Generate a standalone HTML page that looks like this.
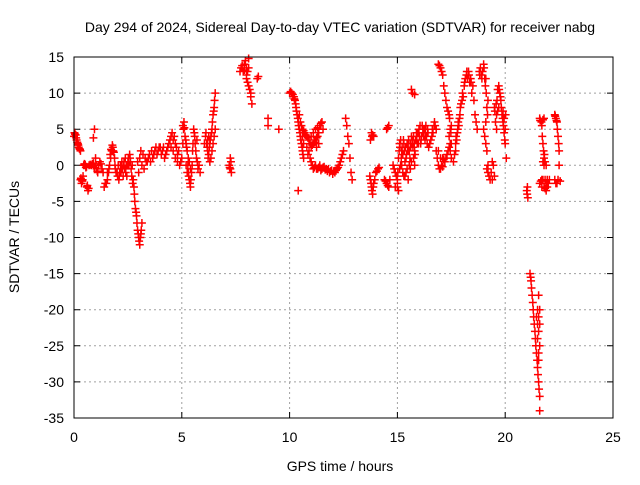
<!DOCTYPE html>
<html><head><meta charset="utf-8"><style>
body{margin:0;background:#fff}
svg{font-family:"Liberation Sans",sans-serif;font-size:13px}
</style></head><body>
<svg id="chart" width="640" height="480" viewBox="0 0 640 480">
<text x="340" y="32" text-anchor="middle" font-size="14">Day 294 of 2024, Sidereal Day-to-day VTEC variation (SDTVAR) for receiver nabg</text>
<g id="grid"></g>
<g id="ticks"></g>
<g id="points"></g>
<rect x="74" y="57" width="539" height="361" fill="none" stroke="#000" stroke-width="1"/>
<text transform="translate(19,237) rotate(-90)" text-anchor="middle" font-size="14">SDTVAR / TECUs</text>
<text x="340" y="471" text-anchor="middle" font-size="14">GPS time / hours</text>
</svg>
<script>
const xTicks=[0,5,10,15,20,25];
const yTicks=[15,10,5,0,-5,-10,-15,-20,-25,-30,-35];
const hoursA=[0,0.05,0.1,0.15,0.2,0.25,0.3,0.3,0.35,0.4,0.45,0.5,0.55,0.6,0.65,0.7,0.8,0.9,
0.9,0.95,1.0,1.05,1.1,1.2,1.3,1.4,1.5,
1.6,1.7,1.75,1.8,1.85,1.9,2.0,2.1,2.2,2.3,2.4,2.5,2.6,2.7,
2.75,2.8,2.85,2.9,2.95,3.0,3.05,3.1,3.15,
3.1,3.2,3.3,3.4,3.5,3.6,3.7,3.8,3.9,4.0,4.1,4.2,4.3,4.4,4.5,4.6,4.7,4.8,4.9,5.0,5.05,
5.05,5.1,5.15,5.2,5.25,5.3,5.35,5.4,5.45,5.5,5.55,5.6,5.7,5.8,5.85,
6.1,6.15,6.2,6.25,6.3,6.35,6.4,6.45,6.5,6.55,6.3,6.4,
7.2,7.25,7.3,7.25,
7.7,7.8,7.9,8.0,8.1,8.0,8.1,8.2,8.25,8.5,8.55,9.0,9.0,9.5,
10,10.1,10.2,10.25,10.3,10.35,10.4,10.45,10.5,10.55,10.6,10.65,10.4,
10.6,10.7,10.8,10.9,11.0,11.1,11.2,11.3,11.4,11.5,11.55,
11.0,11.1,11.2,11.3,11.5,11.6,11.7,11.9,12.1,12.2,12.3,12.4,12.5,
12.6,12.65,12.7,12.75,12.8,12.85,12.9,
13.75,13.8,13.9,13.75,13.8,13.85,13.9,14.0,14.1,
14.4,14.5,14.6,14.5,14.6,
14.8,14.9,15.0,15.05,15.1,15.2,15.3,15.4,15.5,15.6,15.7,15.8,15.9,16.0,16.1,16.2,16.3,16.4,16.5,16.6,16.7,16.8,
15.2,15.4,15.6,15.8,15.0,15.3,15.5,
15.65,15.7,15.8,
16.9,17.0,17.1,17.2,17.3,17.4,17.5,17.45,17.5,
16.8,16.9,17.0,17.1,17.2,17.3,17.4,17.5,
17.6,17.7,17.8,17.9,18.0,18.1,18.2,18.3,18.4,18.5,18.6,18.7,
18.8,18.9,19.0,19.1,19.2,19.0,19.1,19.2,19.3,19.4,19.5,19.1,
19.5,19.6,19.7,19.75,19.8,19.85,19.9,19.95,20.0,20.05,19.6,
21.0,21.05,
21.15,21.2,21.25,21.3,21.35,21.4,21.45,21.5,21.55,21.5,21.55,21.6,21.6,21.6,21.55,
21.6,21.7,21.8,21.75,21.8,21.7,21.6,21.8,21.9,22.0,21.8,
22.3,22.35,22.4,22.45,22.5,22.5,22.4,22.3];
const valsA=[4,4.3,3.8,3.2,2.8,2.3,2,-2,-2.5,-2,0,0,-0.3,-3,-3.5,0,0,0.3,
3.8,5,1,-0.5,-1,0.5,-0.5,-3,-2.5,
-1,1,2,2.5,1.8,0,-1,-1.5,-0.5,0,-1,0.5,1,0,
-2,-4,-6,-7,-9,-10,-11,-9.5,-8,
2,1.5,1,0.5,1.5,2,1.5,2.5,2,2.5,2,1,2,3,4,3.5,3,1.5,0,1,3,
5.5,6,4,3,2,-1,-2,-3,-1,2,5,4,3.5,0,-1,
4,3,2,1.5,3,4,5,7,8,10,0.5,2,
0,-0.5,-1,1,
13,13.8,14,13.5,14.8,12,11,9.5,8.5,12,12.3,5.5,6.5,5,
10,10,9.5,9,8,7,6,5,4,3,2,1,-3.5,
5,4.5,4,3.5,2.5,3,3.5,4,5.5,6,5,
0.5,-0.5,0,-0.5,-0.5,-0.2,-0.5,-0.8,-1,-0.5,0,1,2,
6.5,5.5,4,3,1,-1,-2,
3.5,4.5,4,-2,-3,-4,-2.5,-1,-0.5,
-2,-2.5,-3,5,5.5,
0,-1,-2,1,3,2,3,1,2.5,3,3.5,2,4,5,3.5,5,4.5,5,3,4,5.5,5,
0,-1,-0.5,0,-3,-1.5,-2,
10.5,10,9.8,
14,13.5,12.5,10,8,7,5.5,3,1,
2,0,-0.5,1,0.5,1.5,2.5,3,
0.5,3,5,7,9,11,12.5,13,12,11,7,5,
13,12.5,14,12,9,5,3,-1,-2,0.5,-1.5,6,
8,7,11,10,9,7,6,4.5,3,1,5,
-3.5,-4.5,
-15,-16,-18,-20,-22,-24,-26,-28,-30,-22,-21,-25,-32,-34,-18,
6.5,5.5,6.5,3,0,-2,-2.5,-3,-3.5,-2.5,1,
7,6.5,6,4,2,0,-2.5,-2];
const hoursB=[0.02,0.08,0.12,0.18,0.22,0.28,
0.32,0.38,0.42,0.48,0.52,0.58,0.62,0.68,0.75,0.85,0.95,
1.02,1.08,1.15,1.25,1.35,1.45,1.55,1.55,
1.62,1.65,1.68,1.72,1.78,1.82,1.88,1.92,1.95,2.02,2.05,2.08,2.12,2.15,2.18,2.22,2.25,2.28,2.32,2.35,2.38,2.42,2.45,2.48,2.52,2.55,2.58,2.62,2.65,2.68,2.72,
2.78,2.82,2.88,2.92,2.98,3.02,3.08,3.12,
3.15,3.25,3.35,3.45,3.55,3.65,3.75,3.85,3.95,4.05,4.15,4.25,4.35,4.45,4.55,4.65,4.75,4.85,4.95,3.0,3.05,2.95,4.5,4.6,4.7,4.8,
5.08,5.12,5.18,5.22,5.28,5.32,5.38,5.42,5.48,5.52,5.58,5.62,5.65,5.68,5.72,5.75,5.2,5.25,5.3,5.35,5.4,
6.05,6.12,6.18,6.22,6.28,6.32,6.38,6.42,6.48,6.52,6.35,6.45,6.5,6.55,6.2,6.25,
7.22,7.28,
7.75,7.85,7.95,8.05,8.0,8.05,8.15,8.2,7.9,8.1,
10.05,10.15,10.22,10.28,10.32,10.38,10.42,10.48,10.52,10.58,10.62,10.5,10.55,10.45,10.6,10.65,
10.65,10.75,10.85,10.95,11.05,11.15,11.25,11.35,11.45,10.8,10.9,10.85,10.95,11.0,11.1,11.2,11.3,11.25,11.35,
11.05,11.15,11.25,11.35,11.45,11.55,11.65,11.75,11.8,11.85,11.95,12.0,12.05,12.15,12.25,12.35,12.45,11.4,
13.72,13.78,13.82,13.88,13.95,14.05,14.15,13.82,13.85,14.45,14.55,14.65,14.55,
14.85,14.95,15.02,15.08,15.12,15.15,15.18,15.22,15.25,15.28,15.32,15.35,15.38,15.42,15.45,15.48,15.52,15.55,15.58,15.62,15.65,15.68,15.72,15.75,15.78,15.82,15.85,15.88,15.92,15.95,15.98,16.02,16.05,16.08,16.12,16.15,16.18,16.22,16.25,16.28,16.32,16.35,16.38,16.42,16.45,16.55,16.62,16.65,16.72,16.75,15.1,15.15,15.25,15.35,15.45,15.55,15.65,15.75,15.0,14.9,15.05,
16.85,16.95,17.05,17.15,17.25,17.35,17.45,16.9,17.0,17.1,
16.95,17.05,17.15,17.25,17.35,17.42,17.48,17.4,17.45,
17.65,17.72,17.78,17.82,17.88,17.92,17.95,18.02,18.05,18.12,18.15,18.22,18.25,18.32,18.35,18.42,18.45,18.55,18.65,17.7,17.75,17.85,
18.82,18.85,18.92,18.95,19.02,19.05,19.08,19.12,19.15,19.18,19.05,19.15,19.25,19.35,19.45,19.4,19.15,19.2,
19.52,19.58,19.62,19.65,19.72,19.78,19.82,19.88,19.92,19.98,19.65,19.7,19.55,19.9,19.95,20.0,20.02,
21.02,21.03,
21.18,21.22,21.28,21.32,21.38,21.42,21.48,21.52,21.45,21.5,21.55,21.6,21.55,21.5,21.6,21.57,21.55,
21.62,21.68,21.75,21.72,21.78,21.75,21.65,21.7,21.75,21.85,21.95,21.85,21.9,21.95,22.05,21.82,21.85,21.9,
22.32,22.38,22.42,22.48,22.45,22.35,22.55];
const valsB=[4.5,4.2,3.5,3,2.5,2.2,
-1.8,-2.2,-1.5,0.2,0.1,-0.2,-2.8,-3.2,0.1,0.2,-0.3,
0,-0.8,0,0.2,-1,-2.5,-2,-1,
-0.5,0,1.5,2.2,2.8,2,1,-0.5,-1,-1.5,0,-2,-1,0,-1,0.5,-0.5,-1.5,0.5,-0.5,1,0,-1.5,0,1,0,1.5,0.5,-0.5,-1.5,-2.5,
-3,-5,-6.5,-8,-9.5,-10.5,-10,-9,
0,-0.5,0.5,1,0.5,1,2,1.5,2.5,1.5,2.5,1.5,2.5,3.5,4.5,4,2.5,2,0.5,-1,1,0.5,2.5,2,1,0.5,
5,5.2,3.5,2.5,0,-1.5,-2.5,-2,0,3,4.5,3,2,1,0.5,-0.5,0,-1,1,0.5,-0.5,
3,4.5,2.5,1,2.5,3.5,4.5,6,7.5,9,1,3,4,5,3.5,4,
-0.3,0.5,
13.5,13,14.5,13,12.5,11.5,10.5,10,13.2,13.5,
10.2,9.8,9.2,8.5,7.5,6.5,5.5,4.5,3.5,2.5,1.5,6,5.5,7,4,3,
4.8,4.2,3.8,3,2.8,3.2,3.8,4.5,5.8,2.5,2,1.5,1,4,4.5,5,5.2,2.5,3,
0,-0.3,-0.5,-0.3,-0.7,-0.3,-0.6,-0.8,-0.5,-1,-0.7,-1.2,-0.8,-0.7,-0.3,0.5,1.5,0,
-1.5,-2.5,-3.5,-3,-2,-0.8,-0.3,4,4.2,-2.2,-2.8,-2,5.2,
-0.5,-1.5,-1,2,2.5,3.5,1,2.5,1.5,3.5,2,0.5,2.5,1.5,3,2,3.5,2,1,2.5,4,3,2.5,4,3,1.5,3.5,4.5,3,4.5,3,4,5.5,3,4,5.5,4.5,4,5,3.5,5.5,4,3,4.5,2.5,3.5,5,4.5,6,5.5,-0.5,0,-1,-1.5,-0.5,0,0.5,1,-2.5,-3,-3.5,
1,-0.5,0,0.8,1,2,2,2,1,-0.2,
13.8,13,11,9,7.5,6.5,4.5,4,5,
1.5,4,4.5,6,6.5,8,8.5,10,9.5,11.5,12,13,12,12.5,11.5,11.5,10,9,6,2,3.5,5.5,
12.5,13.5,12,13,13.5,12,11,10,8,7,4,2,-1.5,-1,0,-2,-0.5,0,
7.5,8.5,9,10.5,10.5,9.5,8,6.5,5.5,3.5,7.5,8,6,7.5,6.5,5,7,
-4,-3,
-15.5,-17,-19,-21,-23,-25,-27,-29,-21,-20,-23,-22,-26,-24,-20,-31,-27,
6.2,6,6.3,4,2,0.5,-2.2,-3,-2,-3.2,-3,-2,-2.5,-2,-2,1.5,0.5,0,
6.8,6.2,5,3,-2,-2.5,-2.2];
const hours=hoursA.concat(hoursB);
const vals=valsA.concat(valsB);
const NS='http://www.w3.org/2000/svg';
const X0=74,X1=613,Y0=418,Y1=57;
function xs(h){return X0+(h-0)/(25-0)*(X1-X0);}
function ys(v){return Y0-(v+35)/(15+35)*(Y0-Y1);}
const grid=document.getElementById('grid'),ticks=document.getElementById('ticks'),pts=document.getElementById('points');
xTicks.forEach(t=>{
  const x=xs(t);
  if(t>0&&t<25){const l=document.createElementNS(NS,'line');
  
  
  l.setAttribute('x1',x);l.setAttribute('x2',x);l.setAttribute('y1',Y1);l.setAttribute('y2',Y0);
  l.setAttribute('stroke','#a0a0a0');l.setAttribute('stroke-dasharray','2,3');grid.appendChild(l);}
  const tk=document.createElementNS(NS,'path');
  
  
  tk.setAttribute('d',`M${x},${Y0}v-6M${x},${Y1}v6`);tk.setAttribute('stroke','#000');ticks.appendChild(tk);
  const tx=document.createElementNS(NS,'text');
  
  
  tx.setAttribute('x',x);tx.setAttribute('y',Y0+24);tx.setAttribute('text-anchor','middle');tx.setAttribute('font-size','14');
  tx.textContent=t;ticks.appendChild(tx);
});
yTicks.forEach(t=>{
  const y=ys(t);
  if(t<15&&t>-35){const l=document.createElementNS(NS,'line');
  
  
  l.setAttribute('x1',X0);l.setAttribute('x2',X1);l.setAttribute('y1',y);l.setAttribute('y2',y);
  l.setAttribute('stroke','#a0a0a0');l.setAttribute('stroke-dasharray','2,3');grid.appendChild(l);}
  const tk=document.createElementNS(NS,'path');
  
  
  tk.setAttribute('d',`M${X0},${y}h6M${X1},${y}h-6`);tk.setAttribute('stroke','#000');ticks.appendChild(tk);
  const tx=document.createElementNS(NS,'text');
  
  
  tx.setAttribute('x',X0-10);tx.setAttribute('y',y+5);tx.setAttribute('text-anchor','end');tx.setAttribute('font-size','14');
  tx.textContent=t;ticks.appendChild(tx);
});
let d='';
for(let i=0;i<hours.length;i++){const x=xs(hours[i]),y=ys(vals[i]);d+=`M${x-4},${y}h8M${x},${y-4}v8`;}
const p=document.createElementNS(NS,'path');


p.setAttribute('d',d);p.setAttribute('stroke','#ff0000');p.setAttribute('stroke-width','1.5');p.setAttribute('fill','none');
pts.appendChild(p);
</script>
</body></html>
